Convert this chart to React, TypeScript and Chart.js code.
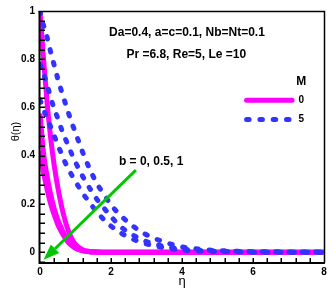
import React, { useEffect, useRef } from "react";
import { Chart, registerables } from "chart.js";

Chart.register(...registerables);

// ---- data ----
const eta = [0, 0.1, 0.2, 0.3, 0.4, 0.5, 0.6, 0.7, 0.8, 0.9, 1.0, 1.2, 1.4, 1.6, 1.8, 2.0, 2.25, 2.5, 2.75, 3.0, 3.5, 4.0, 4.5, 5.0, 5.5, 6.0, 7.0, 8.0];

// M = 0 (magenta solid)
const thetaM0b0 = [1.0, 0.8, 0.62, 0.475, 0.36, 0.27, 0.195, 0.135, 0.088, 0.055, 0.032, 0.01, 0.003, 0.001, 0, 0, 0, 0, 0, 0, 0, 0, 0, 0, 0, 0, 0, 0];
const thetaM0b05 = [0.575, 0.41, 0.315, 0.24, 0.18, 0.135, 0.1, 0.07, 0.047, 0.03, 0.018, 0.006, 0.002, 0.001, 0, 0, 0, 0, 0, 0, 0, 0, 0, 0, 0, 0, 0, 0];
const thetaM0b1 = [0.42, 0.33, 0.26, 0.2, 0.155, 0.115, 0.085, 0.06, 0.04, 0.026, 0.016, 0.005, 0.001, 0, 0, 0, 0, 0, 0, 0, 0, 0, 0, 0, 0, 0, 0, 0];

// M = 5 (blue dashed)
const thetaM5b0 = [1.0, 0.94, 0.89, 0.83, 0.775, 0.72, 0.67, 0.624, 0.578, 0.535, 0.495, 0.415, 0.345, 0.285, 0.24, 0.196, 0.155, 0.122, 0.094, 0.072, 0.042, 0.022, 0.012, 0.007, 0.004, 0.002, 0.001, 0];
const thetaM5b05 = [0.78, 0.74, 0.695, 0.64, 0.595, 0.555, 0.512, 0.475, 0.44, 0.405, 0.373, 0.315, 0.265, 0.22, 0.183, 0.148, 0.108, 0.082, 0.06, 0.044, 0.024, 0.013, 0.007, 0.004, 0.002, 0.001, 0, 0];
const thetaM5b1 = [0.632, 0.592, 0.556, 0.52, 0.483, 0.445, 0.41, 0.375, 0.345, 0.318, 0.293, 0.245, 0.205, 0.167, 0.135, 0.108, 0.082, 0.062, 0.046, 0.034, 0.018, 0.009, 0.005, 0.002, 0.001, 0, 0, 0];

const xTicks = [0, 2, 4, 6, 8];
const xTickLabels = ["0", "2", "4", "6", "8"];
const yTicks = [0, 0.2, 0.4, 0.6, 0.8, 1];
const yTickLabels = ["0", "0.2", "0.4", "0.6", "0.8", "1"];

const xTitle = "η";
const yTitle = "θ(η)";
const infoLines = ["Da=0.4, a=c=0.1, Nb=Nt=0.1", "Pr =6.8, Re=5, Le =10"];
const bLabel = "b = 0, 0.5, 1";
const legendTitle = "M";
const legendLabels = ["0", "5"];

const MAGENTA = "#ff00ff";
const BLUE = "#3333ff";
const GREEN = "#00c800";

const toPts = (ys: number[]) => eta.map((x, i) => ({ x, y: ys[i] }));

const overlayPlugin = {
  id: "overlay",
  afterDatasetsDraw(chart: any) {
    const { ctx, chartArea: ca, scales } = chart;
    const xs = scales.x;
    const ys = scales.y;
    const px = (v: number) => xs.getPixelForValue(v);
    const py = (v: number) => ys.getPixelForValue(v);
    ctx.save();

    // frame
    ctx.strokeStyle = "#000";
    ctx.lineWidth = 2;
    ctx.beginPath();
    ctx.moveTo(ca.left - 0.5, ca.top);
    ctx.lineTo(ca.left - 0.5, ca.bottom + 1);
    ctx.moveTo(ca.left - 1.5, ca.bottom);
    ctx.lineTo(ca.right + 1, ca.bottom);
    ctx.stroke();
    ctx.lineWidth = 1.5;
    ctx.beginPath();
    ctx.moveTo(ca.left - 1.5, ca.top + 0.5);
    ctx.lineTo(ca.right + 0.5, ca.top + 0.5);
    ctx.lineTo(ca.right + 0.5, ca.bottom);
    ctx.stroke();

    // inner ticks
    ctx.lineWidth = 1.5;
    ctx.beginPath();
    for (let k = -1; k < 25; k++) {
      const v = k * 0.04;
      const yy = Math.round(py(v)) + 0.25;
      ctx.moveTo(ca.left, yy);
      ctx.lineTo(ca.left + 5, yy);
    }
    for (let k = 1; k < 20; k++) {
      const v = k * 0.4;
      const xx = Math.round(px(v)) + 0.25;
      ctx.moveTo(xx, ca.bottom);
      ctx.lineTo(xx, ca.bottom - 5);
    }
    ctx.stroke();

    // axis titles
    ctx.fillStyle = "#000";
    ctx.font = "13px 'Liberation Sans', Arial, sans-serif";
    ctx.textAlign = "center";
    ctx.textBaseline = "alphabetic";
    ctx.fillText(xTitle, (ca.left + ca.right) / 2, 285);
    ctx.save();
    ctx.translate(18.5, py(0.5));
    ctx.rotate(-Math.PI / 2);
    ctx.font = "11px 'Liberation Sans', Arial, sans-serif";
    ctx.fillText(yTitle, 0, 0);
    ctx.restore();

    // info text
    ctx.font = "bold 12px 'Liberation Sans', Arial, sans-serif";
    ctx.textBaseline = "middle";
    ctx.fillText(infoLines[0], px(4.14), py(0.909));
    ctx.fillText(infoLines[1], px(4.12), py(0.817));
    ctx.fillText(bLabel, px(3.13), py(0.374));

    // legend
    ctx.fillText(legendTitle, px(7.36), py(0.706));
    ctx.font = "bold 10px 'Liberation Sans', Arial, sans-serif";
    ctx.fillText(legendLabels[0], px(7.36), py(0.63));
    ctx.fillText(legendLabels[1], px(7.36), py(0.55));
    ctx.lineWidth = 5;
    ctx.lineCap = "round";
    ctx.strokeStyle = MAGENTA;
    ctx.beginPath();
    ctx.moveTo(px(5.82), py(0.63));
    ctx.lineTo(px(7.1), py(0.63));
    ctx.stroke();
    ctx.strokeStyle = BLUE;
    ctx.setLineDash([2.5, 10.8]);
    ctx.beginPath();
    ctx.moveTo(px(5.82), py(0.55));
    ctx.lineTo(px(7.15), py(0.55));
    ctx.stroke();
    ctx.setLineDash([]);

    // arrow
    const x0 = px(2.7), y0 = py(0.34), x1 = px(0.1), y1 = py(-0.032);
    const ang = Math.atan2(y1 - y0, x1 - x0);
    const hl = 16, hw = 6;
    const bx = x1 - hl * Math.cos(ang), by = y1 - hl * Math.sin(ang);
    ctx.strokeStyle = GREEN;
    ctx.fillStyle = GREEN;
    ctx.lineWidth = 3;
    ctx.lineCap = "butt";
    ctx.beginPath();
    ctx.moveTo(x0, y0);
    ctx.lineTo(bx, by);
    ctx.stroke();
    ctx.beginPath();
    ctx.moveTo(x1, y1);
    ctx.lineTo(bx + hw * Math.sin(ang), by - hw * Math.cos(ang));
    ctx.lineTo(bx - hw * Math.sin(ang), by + hw * Math.cos(ang));
    ctx.closePath();
    ctx.fill();

    ctx.restore();
  },
};

export default function App() {
  const ref = useRef<HTMLCanvasElement | null>(null);
  useEffect(() => {
    document.body.style.margin = "0";
    const canvas = ref.current;
    if (!canvas) return;
    const solid = (ys: number[]) => ({
      data: toPts(ys),
      borderColor: MAGENTA,
      borderWidth: 5,
      pointRadius: 0,
      fill: false,
      cubicInterpolationMode: "monotone" as const,
      clip: 0,
      order: 2,
    });
    const dashed = (ys: number[]) => ({
      data: toPts(ys),
      borderColor: BLUE,
      borderWidth: 5,
      borderDash: [2.5, 10.8],
      borderCapStyle: "round" as const,
      pointRadius: 0,
      fill: false,
      cubicInterpolationMode: "monotone" as const,
      clip: 0,
      order: 1,
    });
    const tickFont = { family: "'Liberation Sans', Arial, sans-serif", size: 10, weight: "bold" as const };
    const chart = new Chart(canvas, {
      type: "line",
      data: {
        datasets: [
          solid(thetaM0b0),
          solid(thetaM0b05),
          solid(thetaM0b1),
          dashed(thetaM5b0),
          dashed(thetaM5b05),
          dashed(thetaM5b1),
        ] as any,
      },
      options: {
        responsive: false,
        animation: false,
        layout: { padding: { top: 8, right: 8, left: 0, bottom: 0 } },
        plugins: { legend: { display: false }, tooltip: { enabled: false } },
        elements: { point: { radius: 0 } },
        scales: {
          x: {
            type: "linear",
            min: 0,
            max: 8,
            afterFit: (s: any) => { s.height = 30; },
            afterBuildTicks: (s: any) => { s.ticks = xTicks.map((v) => ({ value: v })); },
            grid: { display: false, drawTicks: false },
            border: { display: false },
            ticks: {
              padding: 3,
              color: "#000",
              font: tickFont,
              maxRotation: 0,
              autoSkip: false,
              callback: (_v: any, i: number) => xTickLabels[i],
            },
          },
          y: {
            type: "linear",
            min: -0.045,
            max: 1,
            afterFit: (s: any) => { s.width = 40; },
            afterBuildTicks: (s: any) => { s.ticks = yTicks.map((v) => ({ value: v })); },
            grid: { display: false, drawTicks: false },
            border: { display: false },
            ticks: {
              padding: 5,
              color: "#000",
              font: tickFont,
              autoSkip: false,
              callback: (_v: any, i: number) => yTickLabels[i],
            },
          },
        },
      },
      plugins: [overlayPlugin],
    });
    return () => chart.destroy();
  }, []);
  return (
    <div style={{ width: 332, height: 293 }}>
      <canvas ref={ref} width={332} height={293} style={{ display: "block" }} />
    </div>
  );
}
